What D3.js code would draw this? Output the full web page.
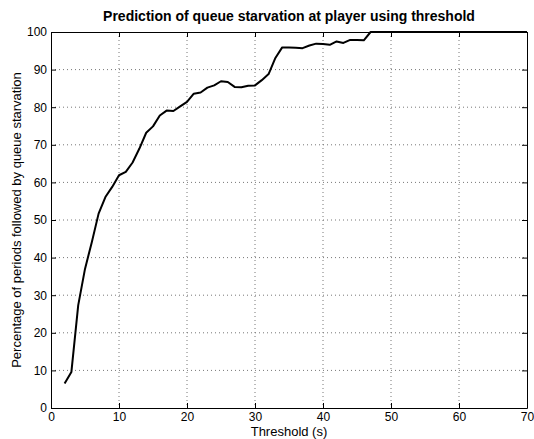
<!DOCTYPE html>
<html>
<head>
<meta charset="utf-8">
<script src="https://cdn.jsdelivr.net/npm/d3@7"></script>
<style>
  body { margin: 0; background: #fff; }
  svg text { font-family: "Liberation Sans", Arial, sans-serif; fill: #000; }
</style>
</head>
<body>
<div id="chart"></div>
<script>
// Data threshold (s) vs percentage
const thresholds = [2, 3, 4, 5, 6, 7, 8, 9, 10, 11, 12, 13, 14, 15, 16, 17, 18, 19, 20,
  21, 22, 23, 24, 25, 26, 27, 28, 29, 30, 31, 32, 33, 34, 35, 36, 37, 38, 39, 40,
  41, 42, 43, 44, 45, 46, 47, 48, 49, 50, 55, 60, 65, 70];
const percentages = [6.5, 9.6, 27.3, 37, 44.1, 51.7, 56.1, 58.8, 61.9, 62.8, 65.3, 69, 73.2, 74.9, 77.8, 79.1, 79, 80.2, 81.4,
  83.6, 83.9, 85.2, 85.8, 86.9, 86.7, 85.4, 85.3, 85.7, 85.8, 87.2, 88.8, 93.1, 95.9, 95.9, 95.8, 95.7, 96.4, 96.9, 96.8,
  96.6, 97.5, 97.1, 97.9, 97.9, 97.8, 100, 100, 100, 100, 100, 100, 100, 100];
const xTicks = [0, 10, 20, 30, 40, 50, 60, 70];
const yTicks = [0, 10, 20, 30, 40, 50, 60, 70, 80, 90, 100];

const W = 534, H = 439;
const margin = { top: 32, right: 7, bottom: 31, left: 51 };
const width = W - margin.left - margin.right;
const height = H - margin.top - margin.bottom;

const svg = d3.select("#chart").append("svg")
  .attr("width", W).attr("height", H);
const g = svg.append("g").attr("transform", `translate(${margin.left},${margin.top})`);

const x = d3.scaleLinear().domain([0, 70]).range([0, width]);
const y = d3.scaleLinear().domain([0, 100]).range([height, 0]);

// grid
g.selectAll(".gx").data(xTicks.slice(1, -1)).enter().append("line")
  .attr("x1", d => x(d)).attr("x2", d => x(d))
  .attr("y1", 0).attr("y2", height)
  .attr("stroke", "#777").attr("stroke-width", 1).attr("stroke-dasharray", "1,3");
g.selectAll(".gy").data(yTicks.slice(1, -1)).enter().append("line")
  .attr("y1", d => y(d)).attr("y2", d => y(d))
  .attr("x1", 0).attr("x2", width)
  .attr("stroke", "#777").attr("stroke-width", 1).attr("stroke-dasharray", "1,3");

// axes (ticks inward, MATLAB style)
g.append("g").attr("transform", `translate(0,${height})`)
  .call(d3.axisBottom(x).tickValues(xTicks).tickSizeInner(-5).tickSizeOuter(0).tickPadding(4));
g.append("g")
  .call(d3.axisLeft(y).tickValues(yTicks).tickSizeInner(-5).tickSizeOuter(0).tickPadding(4));
g.append("g")
  .call(d3.axisTop(x).tickValues(xTicks).tickSizeInner(-5).tickSizeOuter(0).tickFormat(""));
g.append("g").attr("transform", `translate(${width},0)`)
  .call(d3.axisRight(y).tickValues(yTicks).tickSizeInner(-5).tickSizeOuter(0).tickFormat(""));
g.selectAll(".domain").attr("stroke", "#000").attr("stroke-width", 1);
g.selectAll(".tick line").attr("stroke", "#000");
g.selectAll(".tick text").style("font-size", "12px").attr("fill", "#000")
  .style("font-family", "Liberation Sans, Arial, sans-serif");

// line
const line = d3.line().x((d, i) => x(thresholds[i])).y(d => y(d));
g.append("path").datum(percentages)
  .attr("d", line)
  .attr("fill", "none").attr("stroke", "#000").attr("stroke-width", 2)
  .attr("stroke-linejoin", "round");

// title
svg.append("text")
  .attr("x", margin.left + width / 2).attr("y", 21)
  .attr("text-anchor", "middle")
  .style("font-size", "14px").style("font-weight", "bold")
  .text("Prediction of queue starvation at player using threshold");

// x label
svg.append("text")
  .attr("x", margin.left + width / 2).attr("y", H - 3)
  .attr("text-anchor", "middle")
  .style("font-size", "13px")
  .text("Threshold (s)");

// y label
svg.append("text")
  .attr("transform", `translate(21,${margin.top + height / 2}) rotate(-90)`)
  .attr("text-anchor", "middle")
  .style("font-size", "13px")
  .text("Percentage of periods followed by queue starvation");
</script>
</body>
</html>
